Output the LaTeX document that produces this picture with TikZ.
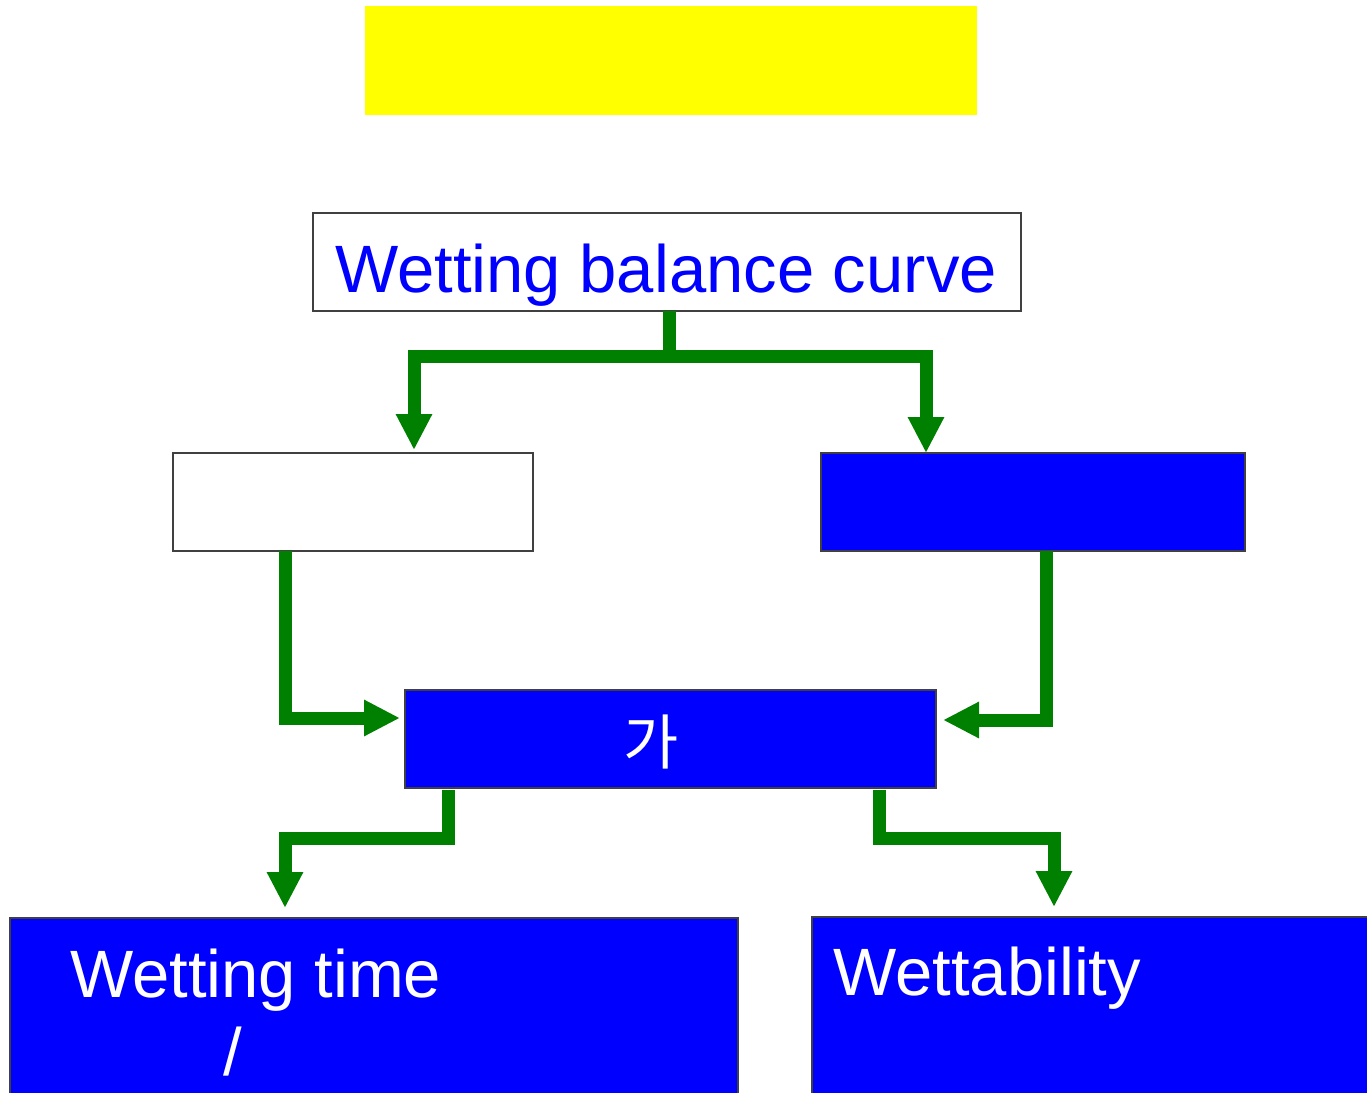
\documentclass[tikz,border=0pt]{standalone}
\usepackage{fontspec}
\setmainfont{Liberation Sans}
\newfontfamily\krfont{Noto Sans CJK KR}
\usetikzlibrary{arrows.meta}
\definecolor{myblue}{HTML}{0000FF}
\definecolor{mygreen}{HTML}{008000}
\definecolor{myyellow}{HTML}{FFFF00}
\definecolor{mygrey}{HTML}{404040}
\begin{document}
\begin{tikzpicture}[x=1pt,y=-1pt,
  box/.style={draw=mygrey, line width=1.8pt, inner sep=0pt, outer sep=0pt},
  bluebox/.style={box, fill=myblue},
  whitebox/.style={box, fill=white},
  flow/.style={draw=mygreen, line width=13pt, line join=miter,
    -{Triangle[width=34pt,length=36pt]}},
  bigtxt/.style={font=\fontsize{67}{80}\selectfont, inner sep=0pt, anchor=base west}]
\useasboundingbox (0,0) rectangle (1367,1092);
\fill[white] (0,0) rectangle (1367,1092);
% boxes
\node[fill=myyellow, minimum width=612pt, minimum height=109pt, inner sep=0pt] (title) at (671,60.5) {};
\node[whitebox, minimum width=708pt, minimum height=98pt] (top) at (667,262) {};
\node[whitebox, minimum width=360pt, minimum height=98pt] (lbox) at (353,502) {};
\node[bluebox, minimum width=424pt, minimum height=98pt] (rbox) at (1033,502) {};
\node[bluebox, minimum width=531pt, minimum height=98pt] (mid) at (670.5,739) {};
\node[bluebox, minimum width=728pt, minimum height=200pt] (bl) at (374,1018) {};
\node[bluebox, minimum width=568pt, minimum height=200pt] (br) at (1096,1017) {};
% texts
\node[bigtxt, text=myblue] (toptxt) at (335,292) {Wetting balance curve};
\node[font=\krfont\fontsize{60}{70}\selectfont, text=white, inner sep=0pt] (midtxt) at (651,742) {가};
\node[bigtxt, text=white] (bltxt) at (70,997) {Wetting time};
\node[font=\fontsize{67}{80}\selectfont, text=white, inner sep=0pt, anchor=base] (slash) at (233,1075) {/};
\node[bigtxt, text=white] (brtxt) at (833,995) {Wettability};
% connectors
\draw[flow] ([xshift=2pt]top.south) -- ++(0,45) -| ([xshift=61pt,yshift=3pt]lbox.north);
\draw[flow] ([xshift=2pt]top.south) -- ++(0,45) -| ([xshift=-107pt]rbox.north);
\draw[flow] ([xshift=-68pt]lbox.south) |- ([xshift=-5pt,yshift=21pt]mid.west);
\draw[flow] ([xshift=13pt]rbox.south) |- ([xshift=7pt,yshift=19pt]mid.east);
\draw[flow] ([xshift=-222.5pt,yshift=-2pt]mid.south) -- ++(0,48) -| ([xshift=-89pt,yshift=10pt]bl.north);
\draw[flow] ([xshift=208.5pt,yshift=-2pt]mid.south) -- ++(0,48) -| ([xshift=-42pt,yshift=10pt]br.north);
\end{tikzpicture}
\end{document}
